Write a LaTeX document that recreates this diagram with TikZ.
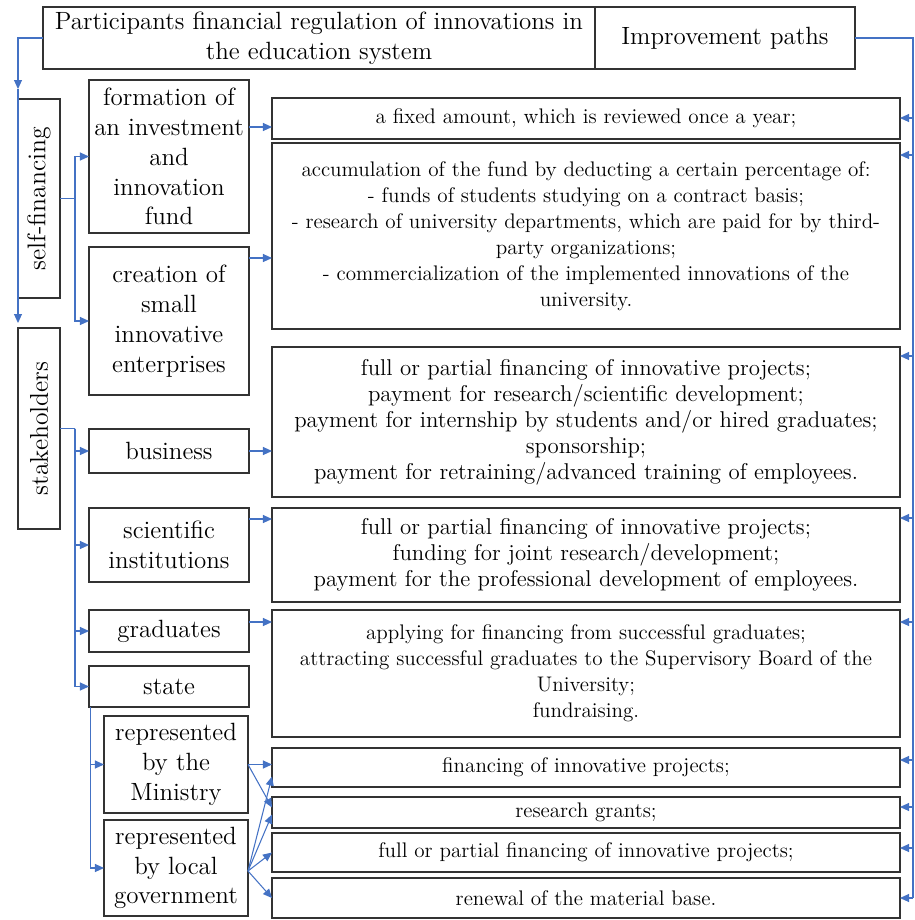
\documentclass[tikz,border=0pt]{standalone}
\usepackage{tikz}
\usetikzlibrary{arrows.meta, positioning}
\definecolor{linkblue}{RGB}{68,114,196}

\begin{document}
\begin{tikzpicture}[
		x = 0.2mm, y = -0.2mm,
		every node/.style = {draw=black!80, line width=0.7pt, inner sep=1pt, outer sep=0pt, align=center},
		hbox/.style = {minimum height=12.4mm, font=\fontsize{14.2}{17}\selectfont},
		vbox/.style = {minimum width=8.4mm, font=\fontsize{14.6}{17}\selectfont},
		lbox/.style = {minimum width=32mm, font=\fontsize{14.2}{17}\selectfont},
		sbox/.style = {minimum width=28.8mm, font=\fontsize{14.2}{17}\selectfont},
		rbox/.style = {minimum width=125.6mm, font=\fontsize{12}{14.8}\selectfont},
		rbig/.style = {rbox, font=\fontsize{13}{14.8}\selectfont},
		wire/.style = {draw=linkblue, line width=0.6pt},
		link/.style = {wire, -{Triangle[length=1.8mm, width=1.6mm]}}
	]
	\useasboundingbox (0,0) rectangle (915,920);
	%
	\node (hdrA) [hbox, minimum width=110.4mm] at (319,38) {Participants financial regulation of innovations in\\the education system};
	\node (hdrB) [hbox, minimum width=52mm]    at (725,38) {Improvement paths};
	%
	\node (selfF)  [vbox, minimum height=39.8mm] at (39,198.5) {\rotatebox{90}{self-financing}};
	\node (stakeh) [vbox, minimum height=40.2mm] at (39,428.5) {\rotatebox{90}{stakeholders}};
	%
	\node (fund)     [lbox, minimum height=30.6mm] at (169,156.5) {formation of\\an investment\\and\\innovation\\fund};
	\node (small)    [lbox, minimum height=29.6mm] at (169,321)   {creation of\\small\\innovative\\enterprises};
	\node (business) [lbox, minimum height=8.8mm]  at (169,451)   {business};
	\node (science)  [lbox, minimum height=14.8mm] at (169,545)   {scientific\\institutions};
	\node (grads)    [lbox, minimum height=8.4mm]  at (169,631)   {graduates};
	\node (state)    [lbox, minimum height=8.2mm]  at (169,686.5) {state};
	\node (ministry) [sbox, minimum height=19.4mm] at (176,764.5) {represented\\by the\\Ministry};
	\node (localgov) [sbox, minimum height=19.2mm] at (176,868)   {represented\\by local\\government};
	%
	\node (r1) [rbox, minimum height=8.2mm]  at (586,118.5) {a fixed amount, which is reviewed once a year;};
	\node (r2) [rbox, minimum height=37.2mm] at (586,236)   {accumulation of the fund by deducting a certain percentage of:\\- funds of students studying on a contract basis;\\- research of university departments, which are paid for by third-\\party organizations;\\- commercialization of the implemented innovations of the\\university.};
	\node (r3) [rbig, minimum height=30mm]   at (586,422)   {full or partial financing of innovative projects;\\payment for research/scientific development;\\payment for internship by students and/or hired graduates;\\sponsorship;\\payment for retraining/advanced training of employees.};
	\node (r4) [rbig, minimum height=18.8mm] at (586,555)   {full or partial financing of innovative projects;\\funding for joint research/development;\\payment for the professional development of employees.};
	\node (r5) [rbox, minimum height=25.4mm] at (586,673.5) {applying for financing from successful graduates;\\attracting successful graduates to the Supervisory Board of the\\University;\\fundraising.};
	\node (r6) [rbox, minimum height=7.8mm]  at (586,767.5) {financing of innovative projects;};
	\node (r7) [rbox, minimum height=6.2mm]  at (586,812.5) {research grants;};
	\node (r8) [rbox, minimum height=7.8mm]  at (586,852.5) {full or partial financing of innovative projects;};
	\node (r9) [rbox, minimum height=8mm]    at (586,898)   {renewal of the material base.};

	% left trunk
	\draw[link] (hdrA.west) -| ([yshift=2mm]selfF.north west);
	\draw[link] ([yshift=2mm]selfF.north west) -- ([yshift=1mm]stakeh.north west);
	%
	\coordinate (sfj) at ([xshift=3mm]selfF.east);
	\draw[wire] (selfF.east) -- (sfj);
	\draw[link] (sfj) |- (fund.west);
	\draw[link] (sfj) |- (small.west);
	%
	\coordinate (skj) at ([xshift=3mm]stakeh.east);
	\draw[wire] (stakeh.east) -- (skj);
	\foreach \n in {business, science, grads, state}
		\draw[link] (skj) |- (\n.west);
	%
	\coordinate (stj) at ([xshift=0.3mm]state.south west);
	\draw[link] (stj) |- (ministry.west);
	\draw[link] (stj) |- (localgov.west);

	% to the paths
	\draw[link] ([yshift=-9.4mm]fund.north east)   -- ([yshift=-9.4mm]fund.north east -| r1.west);
	\draw[link] ([yshift=-2.2mm]small.north east)  -- ([yshift=-2.2mm]small.north east -| r2.west);
	\draw[link] (business.east) -- (business.east -| r3.west);
	\draw[link] ([yshift=-2.2mm]science.north east) -- ([yshift=-2.2mm]science.north east -| r4.west);
	\draw[link] ([yshift=-2.4mm]grads.north east)  -- ([yshift=-2.4mm]grads.north east -| r5.west);
	%
	\draw[link] (ministry.east) -- (ministry.east -| r6.west);
	\draw[link] (ministry.east) -- ([yshift=1mm]r7.west);
	\draw[link] ([yshift=-0.6mm]localgov.east) -- ([yshift=-1.8mm]r6.west);
	\draw[link] ([yshift=-0.6mm]localgov.east) -- ([yshift=-0.4mm]r7.west);
	\draw[link] ([yshift=-0.6mm]localgov.east) -- (r8.west);
	\draw[link] ([yshift=-0.6mm]localgov.east) -- (r9.west);

	% right trunk
	\coordinate (rt) at (913,38);
	\coordinate (rb) at (913,898);
	\draw[wire] (hdrB.east) -- (rt) -- (rb);
	\foreach \r/\d in {r1/4, r2/2.4, r3/1.8, r4/2, r5/2.4, r6/2.4, r7/2, r8/3, r9/4} {
		\coordinate (tip) at ([yshift=-\d mm]\r.north east);
		\draw[link] (tip -| rt) -- (tip);
	}
\end{tikzpicture}
\end{document}
